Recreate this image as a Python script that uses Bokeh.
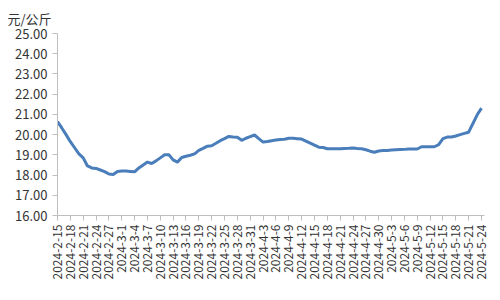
import math
import datetime as dt
from bokeh.plotting import figure
from bokeh.models import ColumnDataSource, FixedTicker, Range1d, NumeralTickFormatter
from bokeh.embed import file_html
from bokeh.resources import INLINE

start = dt.date(2024, 2, 15)
dates = [start + dt.timedelta(days=i) for i in range(100)]
date_labels = [f"{d.year}-{d.month}-{d.day}" for d in dates]

prices = [
    20.65, 20.33, 20.00, 19.65, 19.35, 19.05, 18.85, 18.45, 18.35, 18.33,
    18.25, 18.17, 18.05, 18.03, 18.18, 18.20, 18.20, 18.18, 18.16, 18.35,
    18.50, 18.64, 18.57, 18.70, 18.85, 19.00, 19.00, 18.75, 18.64, 18.87,
    18.93, 18.98, 19.05, 19.22, 19.32, 19.43, 19.45, 19.57, 19.70, 19.80,
    19.91, 19.88, 19.87, 19.72, 19.82, 19.90, 19.98, 19.80, 19.63, 19.66,
    19.70, 19.73, 19.76, 19.77, 19.82, 19.82, 19.80, 19.78, 19.68, 19.58,
    19.48, 19.38, 19.36, 19.30, 19.30, 19.30, 19.30, 19.31, 19.32, 19.34,
    19.31, 19.30, 19.25, 19.18, 19.13, 19.19, 19.21, 19.22, 19.24, 19.25,
    19.26, 19.27, 19.29, 19.29, 19.29, 19.40, 19.40, 19.40, 19.40, 19.50,
    19.80, 19.88, 19.88, 19.93, 20.00, 20.06, 20.12, 20.55, 20.98, 21.31,
]

y_ticks = [16, 17, 18, 19, 20, 21, 22, 23, 24, 25]
unit_label = "元/公斤"

FONT = "Noto Sans CJK SC"
TXT = "#333333"
AX = "#bfbfbf"

idx = list(range(len(prices)))
src = ColumnDataSource(dict(x=idx, y=prices, label=date_labels))

p = figure(width=500, height=300, output_backend="svg", toolbar_location=None,
           x_range=Range1d(0, 99.7), y_range=Range1d(16, 25),
           min_border_left=57, min_border_right=16, min_border_top=33, min_border_bottom=85)
p.outline_line_color = None
p.background_fill_color = "white"
p.border_fill_color = "white"
p.xgrid.visible = False
p.ygrid.visible = False

p.title.text = unit_label
p.title.align = "left"
p.title.offset = -50
p.title.standoff = 12
p.title.text_font = FONT
p.title.text_font_size = "13px"
p.title.text_font_style = "normal"
p.title.text_color = TXT

p.line("x", "y", source=src, line_color="#4a7ebb", line_width=3)

xa = p.xaxis[0]
xa.ticker = FixedTicker(ticks=idx[::3])
xa.major_label_overrides = {i: date_labels[i] for i in idx[::3]}
xa.major_label_orientation = math.pi / 2
xa.major_label_text_font = FONT
xa.major_label_text_font_size = "12px"
xa.major_label_text_color = TXT
xa.major_label_standoff = 4
xa.axis_line_color = AX
xa.major_tick_line_color = AX
xa.major_tick_out = 5
xa.major_tick_in = 0
xa.minor_tick_line_color = None

ya = p.yaxis[0]
ya.ticker = FixedTicker(ticks=y_ticks)
ya.formatter = NumeralTickFormatter(format="0.00")
ya.major_label_text_font = FONT
ya.major_label_text_font_size = "13px"
ya.major_label_text_color = TXT
ya.major_label_standoff = 5
ya.axis_line_color = AX
ya.major_tick_line_color = AX
ya.major_tick_out = 5
ya.major_tick_in = 0
ya.minor_tick_line_color = None

open("out.html", "w").write(file_html(p, INLINE))
